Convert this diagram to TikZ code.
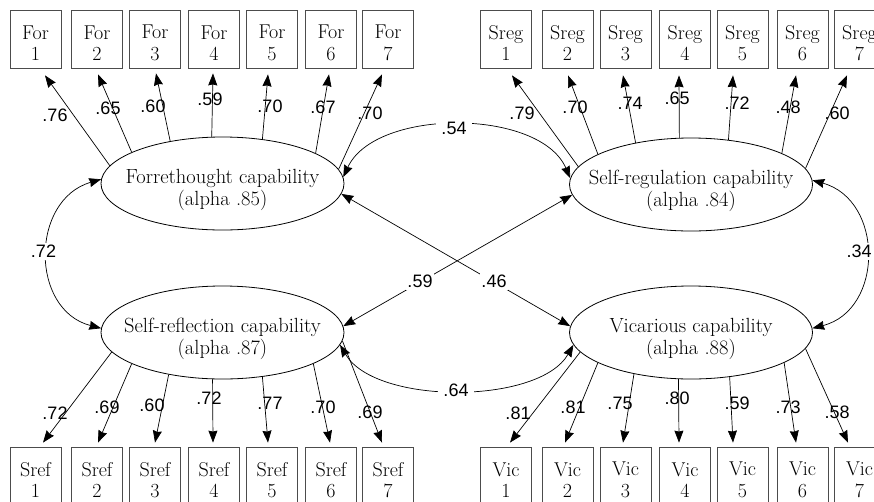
\documentclass[tikz,border=0pt]{standalone}
\usepackage{fontspec}
\newfontfamily\labfont{Liberation Sans}
\usetikzlibrary{arrows.meta,shapes.geometric,calc}
\begin{document}
\begin{tikzpicture}[x=1pt,y=-1pt,
  >={Stealth[length=12pt,width=9pt,inset=1pt]},
  obs/.style={draw=black!70, line width=0.8pt, minimum width=51pt, minimum height=58pt, inner sep=0pt},
  obstext/.style={font=\fontsize{20}{21.5}\selectfont, align=center, inner sep=0pt},
  lat/.style={ellipse, draw, line width=0.8pt, minimum width=243pt, minimum height=93pt, inner sep=0pt},
  lattext/.style={font=\fontsize{20.5}{22}\selectfont, align=center, inner sep=0pt},
  load/.style={->, line width=0.7pt},
  cor/.style={<->, line width=0.7pt},
  coef/.style={font=\labfont\fontsize{18}{20}\selectfont, inner sep=1pt},
  coefw/.style={coef, fill=white, inner xsep=5pt, inner ysep=2pt}
]
\useasboundingbox (0,0) rectangle (874,501);
\clip (0,0) rectangle (874,501);

% observed boxes
\foreach \i/\x in {1/35.5,2/97,3/155,4/214,5/272,6/331,7/388}{
  \node[obs] (f\i) at (\x,39) {};
  \node[obstext] (ft\i) at ($(f\i.center)+(0,4)$) {For\\\i};
  \node[obs] (r\i) at (\x,476) {};
  \node[obstext] (rt\i) at ($(r\i.center)+(0,4)$) {Sref\\\i};
}
\foreach \i/\x in {1/506,2/567.5,3/625.5,4/685,5/742.5,6/802.5,7/859.5}{
  \node[obs] (s\i) at (\x,39) {};
  \node[obstext] (st\i) at ($(s\i.center)+(0,4)$) {Sreg\\\i};
  \node[obs] (v\i) at (\x,476) {};
  \node[obstext] (vt\i) at ($(v\i.center)+(0,4)$) {Vic\\\i};
}

% latent ellipses
\node[lat] (eF) at (222.5,183.5) {};
\node[lattext] (tF) at ($(eF.center)+(0,6.5)$) {Forrethought capability\\(alpha .85)};
\node[lat] (eS) at (691,184.5) {};
\node[lattext] (tS) at ($(eS.center)+(0,6.5)$) {Self-regulation capability\\(alpha .84)};
\node[lat] (eR) at (222.5,332.5) {};
\node[lattext] (tR) at ($(eR.center)+(0,6.5)$) {Self-reflection capability\\(alpha .87)};
\node[lat] (eV) at (691,332.5) {};
\node[lattext] (tV) at ($(eV.center)+(0,6.5)$) {Vicarious capability\\(alpha .88)};

% loadings
\foreach \i/\a/\dx/\dy in {1/171/9.5/7,2/161/1/6,3/141/1/5,4/103/-1/5,5/48/-4/6,6/18/-2/6,7/7/-6/6}
  \draw[load] (eF.\a) -- ($(f\i.south)+(\dx,\dy)$);
\foreach \i/\a/\dx in {1/171/6,2/162/0.5,3/143/-2.5,4/104/-6,5/50/-9.5,6/19/-6.5,7/8/-12.5}
  \draw[load] (eS.\a) -- ($(s\i.south)+(\dx,7)$);
\foreach \i/\a/\dx in {1/190/7.5,2/199/1,3/218/0,4/258/-1,5/312/-4,6/341/-1,7/356/-6}
  \draw[load] (eR.\a) -- ($(r\i.north)+(\dx,-4)$);
\foreach \i/\a/\dx in {1/190/4,2/198/-2.5,3/216/-2.5,4/255/-6,5/311/-9.5,6/342/-6.5,7/352/-11.5}
  \draw[load] (eV.\a) -- ($(v\i.north)+(\dx,-4)$);

% loading coefficients
\foreach \i/\x/\y/\t in {1/55/115/.76,2/108/108/.65,3/153/106/.60,4/210/99/.59,5/270/106/.70,6/323/107/.67,7/370/113/.70}
  \node[coef] (lf\i) at (\x,\y) {\t};
\foreach \i/\x/\y/\t in {1/522/113/.79,2/575/107/.70,3/630/103/.74,4/677/98/.65,5/737/103/.72,6/788/107/.48,7/837/113/.60}
  \node[coef] (ls\i) at (\x,\y) {\t};
\foreach \i/\x/\y/\t in {1/55/413/.72,2/107/407/.69,3/152/405/.60,4/209/398/.72,5/270/403/.77,6/323/407/.70,7/370/412/.69}
  \node[coef] (lr\i) at (\x,\y) {\t};
\foreach \i/\x/\y/\t in {1/518/413/.81,2/573/407/.81,3/620/403/.75,4/677/398/.80,5/737/403/.59,6/788/407/.73,7/837/412/.58}
  \node[coef] (lv\i) at (\x,\y) {\t};

% correlations
\draw[cor] (eF.3) .. controls (375,108) and (540,108) .. (eS.177);
\draw[cor] (eF.178) .. controls (30,200) and (30,310) .. (eR.178);
\draw[cor] (eS.2) .. controls (884,200) and (884,310) .. (eV.2);
\draw[cor] (eR.354) .. controls (375,405) and (539,405) .. (eV.186);
\draw[cor] (eR.3) -- (eS.185);
\draw[cor] (eF.355) -- (eV.177);

\node[coefw] (c54) at (454,128) {.54};
\node[coefw] (c72) at (43.5,251.5) {.72};
\node[coefw] (c34) at (859,251.5) {.34};
\node[coefw] (c64) at (456,390) {.64};
\node[coefw, inner xsep=1pt] (c59) at (420,281.5) {.59};
\node[coefw, inner xsep=1pt] (c46) at (494,281.5) {.46};
\end{tikzpicture}
\end{document}
